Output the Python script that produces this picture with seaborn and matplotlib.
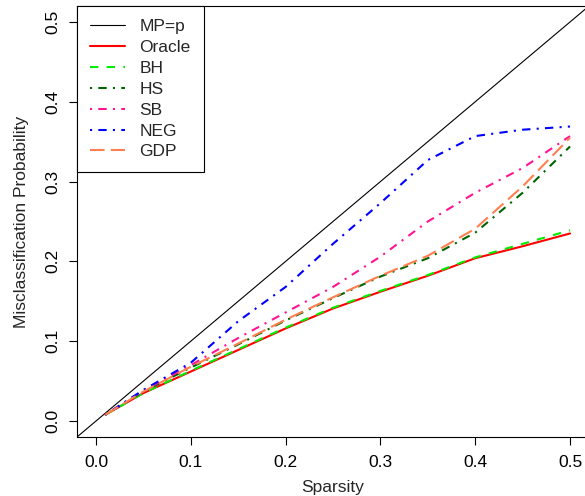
import numpy as np
import pandas as pd
import seaborn as sns
import matplotlib.pyplot as plt
from matplotlib.lines import Line2D

# sparsity grid and misclassification probability per method
sparsity = [0.01, 0.05, 0.10, 0.15, 0.20, 0.25, 0.30, 0.35, 0.40, 0.45, 0.50]
oracle = [0.008, 0.035, 0.062, 0.089, 0.116, 0.141, 0.162, 0.182, 0.204, 0.219, 0.235]
bh = [0.008, 0.035, 0.063, 0.090, 0.117, 0.142, 0.163, 0.183, 0.205, 0.222, 0.239]
hs = [0.008, 0.037, 0.067, 0.096, 0.126, 0.154, 0.181, 0.204, 0.236, 0.286, 0.344]
sb = [0.008, 0.038, 0.070, 0.104, 0.136, 0.168, 0.206, 0.250, 0.286, 0.317, 0.357]
neg = [0.008, 0.039, 0.073, 0.125, 0.168, 0.222, 0.273, 0.327, 0.357, 0.365, 0.369]
gdp = [0.008, 0.037, 0.068, 0.097, 0.127, 0.155, 0.182, 0.207, 0.241, 0.294, 0.355]

labels = ["MP=p", "Oracle", "BH", "HS", "SB", "NEG", "GDP"]
colors = ["black", "red", "#00EE00", "darkgreen", "deeppink", "blue", "coral"]
styles = ["-", "-", (0, (4, 4)), (0, (1, 3, 4, 3)), (0, (1, 3, 4, 3)),
          (0, (1, 3, 4, 3)), (0, (7, 3))]
series = {"Oracle": oracle, "BH": bh, "HS": hs, "SB": sb, "NEG": neg, "GDP": gdp}

sns.set_theme(style="ticks")
plt.rcParams['font.family'] = ['Liberation Sans', 'DejaVu Sans']

fig = plt.figure(figsize=(5.85, 4.96), dpi=100)
ax = fig.add_axes([77 / 585, 59 / 496, 512 / 585, 431 / 496])

# MP = p reference line
ax.axline((0, 0), slope=1, color="black", lw=0.8)

for i, name in enumerate(labels[1:], start=1):
    df = pd.DataFrame({"x": sparsity, "y": series[name]})
    sns.lineplot(data=df, x="x", y="y", ax=ax, color=colors[i],
                 linestyle=styles[i], lw=1.5)

ax.set_xlim(-0.02, 0.52)
ax.set_ylim(-0.02, 0.52)
ticks = [0.0, 0.1, 0.2, 0.3, 0.4, 0.5]
ax.set_xticks(ticks)
ax.set_yticks(ticks)
ax.set_xticklabels([f"{t:.1f}" for t in ticks])
ax.set_yticklabels([f"{t:.1f}" for t in ticks], rotation=90, va="center")
ax.tick_params(direction="out", length=6, width=0.8, labelsize=12.5, pad=7, colors="black")
ax.tick_params(axis="y", pad=6)
for s in ax.spines.values():
    s.set_color("black")
    s.set_linewidth(0.8)

ax.set_xlabel("Sparsity", fontsize=12.5, labelpad=7)
ax.set_ylabel("Misclassification Probability", fontsize=12.5, labelpad=12)

handles = [Line2D([], [], color=colors[i], linestyle=styles[i],
                  lw=0.8 if i == 0 else 1.5) for i in range(len(labels))]
leg = ax.legend(handles, labels, loc="upper left", bbox_to_anchor=(0, 1),
                borderaxespad=0, fancybox=False, framealpha=1, edgecolor="black",
                fontsize=12.5, handlelength=2.0, handletextpad=0.85,
                labelspacing=0.33, borderpad=0.75)
leg.get_frame().set_linewidth(0.8)

fig.savefig("out.png", dpi=100)
